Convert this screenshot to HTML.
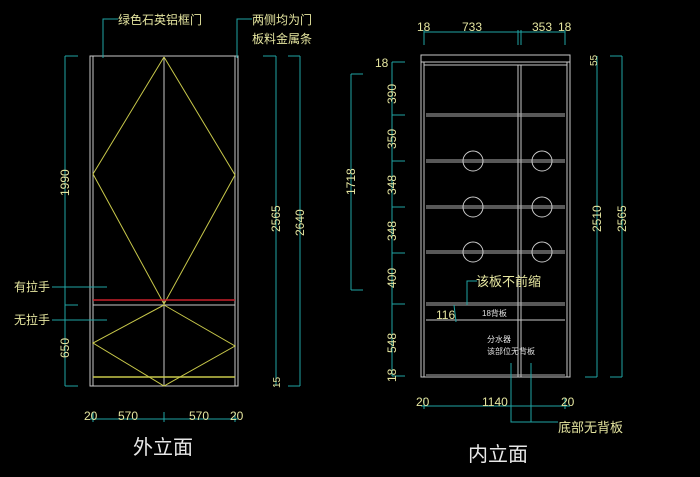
<!DOCTYPE html>
<html><head><meta charset="utf-8"><style>
html,body{margin:0;padding:0;background:#000;width:700px;height:477px;overflow:hidden}
svg{display:block}
text{font-family:"Liberation Sans","Noto Sans CJK SC",sans-serif}
</style></head><body>
<svg width="700" height="477" viewBox="0 0 700 477">
<rect width="700" height="477" fill="#000"/>
<!-- LEFT CABINET -->
<g stroke="#c8c8c8" fill="none" stroke-width="1">
<rect x="90" y="56" width="148" height="330"/>
<line x1="93" y1="56" x2="93" y2="386"/><line x1="235" y1="56" x2="235" y2="386"/>
<line x1="164" y1="57" x2="164" y2="386"/>
<line x1="93" y1="305" x2="235" y2="305"/>
</g>
<g stroke="#c8c84a" fill="none" stroke-width="1">
<polyline points="164,57 93,174 164,304 235,175 164,57"/>
<polyline points="164,305 93,343 164,386 235,346 164,305"/>
<line x1="93" y1="377" x2="235" y2="377" stroke-width="1.5"/>
</g>
<line x1="93" y1="300" x2="235" y2="300" stroke="#c8202a" stroke-width="1.5"/>
<g stroke="#1fa5a5" fill="none" stroke-width="1">
<line x1="65" y1="56" x2="65" y2="386"/>
<line x1="65" y1="56" x2="78" y2="56"/><line x1="65" y1="305" x2="78" y2="305"/><line x1="65" y1="386" x2="78" y2="386"/>
<line x1="276" y1="56" x2="276" y2="386"/><line x1="263" y1="56" x2="276" y2="56"/>
<line x1="300" y1="56" x2="300" y2="386"/><line x1="288" y1="56" x2="300" y2="56"/><line x1="288" y1="386" x2="300" y2="386"/>
<line x1="90" y1="419" x2="238" y2="419"/>
<line x1="93" y1="412" x2="93" y2="422"/><line x1="164" y1="412" x2="164" y2="422"/><line x1="235" y1="412" x2="235" y2="422"/>
<polyline points="103,58 103,19 118,19"/>
<polyline points="237,58 237,19 252,19"/>
<line x1="52" y1="287" x2="107" y2="287"/>
<line x1="52" y1="320" x2="107" y2="320"/>
</g>
<g fill="#e6e6a0" font-size="12">
<text x="118" y="24">绿色石英铝框门</text>
<text x="252" y="24">两侧均为门</text>
<text x="252" y="43">板料金属条</text>
<text x="14" y="291">有拉手</text>
<text x="14" y="324">无拉手</text>
<text x="84" y="420">20</text><text x="118" y="420">570</text><text x="189" y="420">570</text><text x="230" y="420">20</text>
<text transform="translate(69,196) rotate(-90)">1990</text>
<text transform="translate(69,358) rotate(-90)">650</text>
<text transform="translate(280,232) rotate(-90)">2565</text>
<text transform="translate(304,236) rotate(-90)">2640</text>
<text transform="translate(280,388) rotate(-90)" font-size="10">15</text>
</g>
<text x="133" y="454" fill="#e8e8e8" font-size="20">外立面</text>

<!-- RIGHT CABINET -->
<g stroke="#c8c8c8" fill="none" stroke-width="1">
<rect x="421" y="55" width="149" height="322"/>
<line x1="424" y1="62" x2="424" y2="377"/><line x1="567" y1="62" x2="567" y2="377"/>
<line x1="421" y1="62" x2="570" y2="62"/><line x1="424" y1="65" x2="567" y2="65"/>
<line x1="518" y1="65" x2="518" y2="377"/><line x1="521" y1="65" x2="521" y2="377"/>
<g stroke="#b0b0b0">
<line x1="426" y1="114" x2="565" y2="114"/><line x1="426" y1="116" x2="565" y2="116"/>
<line x1="426" y1="160" x2="565" y2="160"/><line x1="426" y1="162" x2="565" y2="162"/>
<line x1="426" y1="206" x2="565" y2="206"/><line x1="426" y1="208" x2="565" y2="208"/>
<line x1="426" y1="251" x2="565" y2="251"/><line x1="426" y1="253" x2="565" y2="253"/>
<line x1="426" y1="303" x2="565" y2="303"/><line x1="426" y1="305" x2="565" y2="305"/>
<line x1="426" y1="375" x2="565" y2="375"/>
</g>
<line x1="426" y1="320" x2="565" y2="320"/>
<circle cx="473" cy="161" r="10"/><circle cx="542" cy="161" r="10"/>
<circle cx="473" cy="207" r="10"/><circle cx="542" cy="207" r="10"/>
<circle cx="473" cy="252" r="10"/><circle cx="542" cy="252" r="10"/>
</g>
<g stroke="#1fa5a5" fill="none" stroke-width="1">
<line x1="392" y1="62" x2="392" y2="376"/>
<line x1="392" y1="62" x2="405" y2="62"/><line x1="392" y1="115" x2="405" y2="115"/><line x1="392" y1="161" x2="405" y2="161"/>
<line x1="392" y1="207" x2="405" y2="207"/><line x1="392" y1="253" x2="405" y2="253"/><line x1="392" y1="304" x2="405" y2="304"/><line x1="392" y1="376" x2="405" y2="376"/>
<line x1="351" y1="74" x2="351" y2="290"/><line x1="351" y1="74" x2="363" y2="74"/><line x1="351" y1="290" x2="363" y2="290"/>
<line x1="597" y1="56" x2="597" y2="377"/><line x1="585" y1="377" x2="597" y2="377"/>
<line x1="622" y1="56" x2="622" y2="377"/><line x1="610" y1="56" x2="622" y2="56"/><line x1="610" y1="377" x2="622" y2="377"/>
<line x1="424" y1="32" x2="565" y2="32"/>
<line x1="424" y1="30" x2="424" y2="45"/><line x1="518" y1="30" x2="518" y2="45"/><line x1="521" y1="30" x2="521" y2="45"/><line x1="565" y1="30" x2="565" y2="45"/>
<line x1="421" y1="406" x2="570" y2="406"/>
<line x1="424" y1="398" x2="424" y2="409"/><line x1="565" y1="398" x2="565" y2="409"/>
<polyline points="467,305 467,281 477,281"/>
<line x1="454" y1="305" x2="456" y2="322"/>
<polyline points="511,363 511,422 558,422"/>
<line x1="531" y1="363" x2="531" y2="422"/>
</g>
<g fill="#e6e6a0" font-size="12">
<text x="417" y="31">18</text><text x="462" y="31">733</text><text x="532" y="31">353</text><text x="558" y="31">18</text>
<text x="375" y="67">18</text>
<text transform="translate(396,104) rotate(-90)">390</text>
<text transform="translate(396,149) rotate(-90)">350</text>
<text transform="translate(396,195) rotate(-90)">348</text>
<text transform="translate(396,241) rotate(-90)">348</text>
<text transform="translate(396,288) rotate(-90)">400</text>
<text transform="translate(396,353) rotate(-90)">548</text>
<text transform="translate(396,382) rotate(-90)">18</text>
<text transform="translate(355,195) rotate(-90)">1718</text>
<text transform="translate(601,232) rotate(-90)">2510</text>
<text transform="translate(626,232) rotate(-90)">2565</text>
<text transform="translate(597,66) rotate(-90)" font-size="10">55</text>
<text x="476" y="286" font-size="13">该板不前缩</text>
<text x="436" y="319">116</text>
<text x="416" y="406">20</text><text x="482" y="406">1140</text><text x="561" y="406">20</text>
<text x="558" y="432" font-size="13">底部无背板</text>
</g>
<g fill="#e0e0e0" font-size="8">
<text x="482" y="316">18背板</text>
<text x="487" y="342">分水器</text>
<text x="487" y="354">该部位无背板</text>
</g>
<text x="468" y="461" fill="#e8e8e8" font-size="20">内立面</text>
</svg>
</body></html>
